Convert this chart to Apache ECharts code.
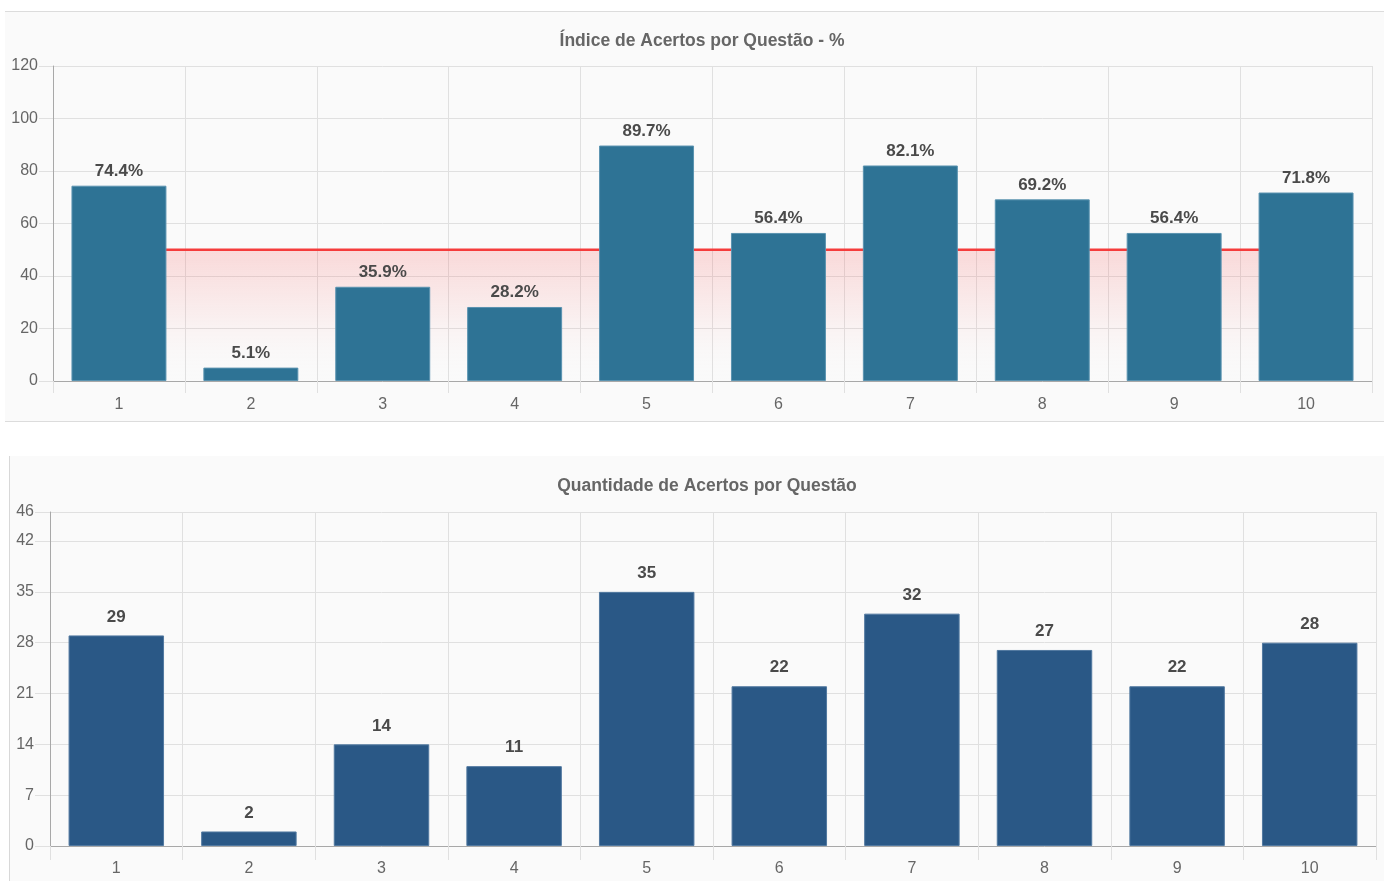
<!DOCTYPE html>
<html>
<head>
<meta charset="utf-8">
<script src="https://cdn.jsdelivr.net/npm/echarts@6/dist/echarts.min.js"></script>
<style>
  html, body { margin: 0; padding: 0; background: #ffffff; }
  body { width: 1384px; height: 881px; position: relative; overflow: hidden; }
  .panel { position: absolute; background: #fafafa; }
  #panelTop { left: 5px; top: 11px; width: 1379px; height: 411px;
              border-top: 1px solid #dcdcdc; border-bottom: 1px solid #dcdcdc; box-sizing: border-box; }
  #panelBottom { left: 9px; top: 456px; width: 1375px; height: 425px;
                 border-left: 1px solid #d8d8d8; box-sizing: border-box; }
  #chart { position: absolute; left: 0; top: 0; width: 1384px; height: 881px; }
</style>
</head>
<body>
<div class="panel" id="panelTop"></div>
<div class="panel" id="panelBottom"></div>
<div id="chart"></div>
<script>
// Questions on the x axis
const questions = ['1', '2', '3', '4', '5', '6', '7', '8', '9', '10'];
// Percentage of correct answers per question
const percentCorrect = [74.4, 5.1, 35.9, 28.2, 89.7, 56.4, 82.1, 69.2, 56.4, 71.8];
// Target line (50%)
const targetLine = [50, 50, 50, 50, 50, 50, 50, 50, 50, 50];
// Number of correct answers per question
const countCorrect = [29, 2, 14, 11, 35, 22, 32, 27, 22, 28];

const FONT = '"Liberation Sans", Arial, Helvetica, sans-serif';
const axisGray = '#666';
const gridLine = '#e0e0e0';
const axisLineColor = '#a8a8a8';

function xAxisFor(gridIndex, tickLen, margin) {
  return {
    type: 'category', gridIndex: gridIndex, data: questions,
    boundaryGap: true,
    axisLine: { show: true, lineStyle: { color: axisLineColor, width: 1 } },
    axisTick: { show: true, length: tickLen, alignWithLabel: false, lineStyle: { color: gridLine } },
    axisLabel: { color: axisGray, fontFamily: FONT, fontSize: 16, margin: margin },
    splitLine: { show: true, lineStyle: { color: gridLine, width: 1 } }
  };
}

function yAxisFor(gridIndex, min, max, interval, margin, tickLen) {
  return {
    type: 'value', gridIndex: gridIndex, min: min, max: max, interval: interval,
    axisLine: { show: true, lineStyle: { color: axisLineColor, width: 1 } },
    axisTick: { show: true, length: tickLen, lineStyle: { color: gridLine } },
    axisLabel: { color: axisGray, fontFamily: FONT, fontSize: 16, margin: margin,
                 showMaxLabel: true, showMinLabel: true },
    splitLine: { show: true, lineStyle: { color: gridLine, width: 1 } }
  };
}

const labelStyle = {
  show: true, position: 'top',
  color: '#4a4a4a', fontFamily: FONT, fontSize: 17, fontWeight: 'bold'
};

const chart = echarts.init(document.getElementById('chart'), null, { renderer: 'canvas' });
chart.setOption({
  animation: false,
  backgroundColor: 'transparent',
  title: [
    { text: 'Índice de Acertos por Questão - %', left: 697, top: 27, textAlign: 'center',
      textStyle: { color: '#666', fontFamily: FONT, fontSize: 17.5, fontWeight: 'bold' } },
    { text: 'Quantidade de Acertos por Questão', left: 702, top: 472, textAlign: 'center',
      textStyle: { color: '#666', fontFamily: FONT, fontSize: 17.5, fontWeight: 'bold' } }
  ],
  grid: [
    { left: 53, top: 66, right: 12, bottom: 500 },
    { left: 50, top: 512, right: 8, bottom: 35 }
  ],
  xAxis: [ xAxisFor(0, 12, 16), xAxisFor(1, 14, 15) ],
  yAxis: [ yAxisFor(0, 0, 120, 20, 15, 14), yAxisFor(1, 0, 46, 7, 16, 15) ],
  series: [
    {
      name: 'Meta', type: 'line', xAxisIndex: 0, yAxisIndex: 0, data: targetLine,
      symbol: 'none', z: 1,
      lineStyle: { color: '#f53c3c', width: 2.5 },
      areaStyle: {
        origin: 'start',
        color: new echarts.graphic.LinearGradient(0, 0, 0, 1, [
          { offset: 0, color: 'rgba(250, 70, 70, 0.26)' },
          { offset: 0.5, color: 'rgba(250, 90, 90, 0.10)' },
          { offset: 1, color: 'rgba(255, 255, 255, 0)' }
        ])
      }
    },
    {
      name: 'Índice', type: 'bar', xAxisIndex: 0, yAxisIndex: 0, data: percentCorrect,
      barCategoryGap: '28%', z: 3,
      itemStyle: { color: '#2e7395', borderColor: '#5a93b0', borderWidth: 1 },
      label: Object.assign({}, labelStyle, { formatter: '{c}%', distance: 6 })
    },
    {
      name: 'Quantidade', type: 'bar', xAxisIndex: 1, yAxisIndex: 1, data: countCorrect,
      barCategoryGap: '28%', z: 3,
      itemStyle: { color: '#2a5886', borderColor: '#5279a0', borderWidth: 1 },
      label: Object.assign({}, labelStyle, { formatter: '{c}', distance: 10 })
    }
  ]
});
</script>
</body>
</html>
